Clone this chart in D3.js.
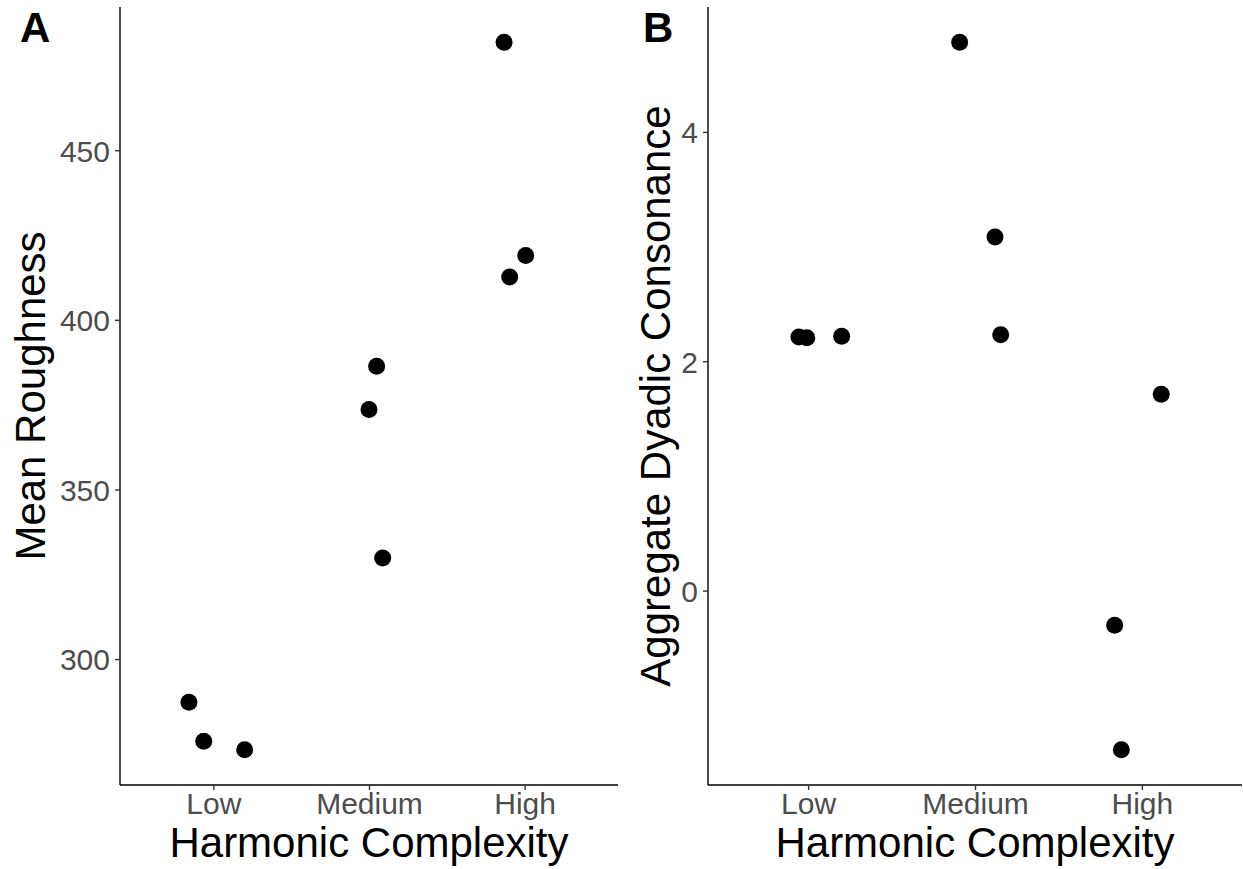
<!DOCTYPE html>
<html>
<head>
<meta charset="utf-8">
<script src="https://cdn.jsdelivr.net/npm/d3@7"></script>
<style>
  html, body { margin: 0; padding: 0; background: #fff; }
  svg { display: block; font-family: "Liberation Sans", Arial, sans-serif; }
</style>
</head>
<body>
<svg id="chart" width="1243" height="869"></svg>
<script>
// Harmonic complexity levels shared by both panels
const categories = ["Low", "Medium", "High"];

// Panel A: mean roughness per stimulus
const roughnessGroup = ["Low", "Low", "Low", "Medium", "Medium", "Medium", "High", "High", "High"];
const roughnessValue = [287.3, 275.8, 273.3, 386.3, 373.6, 329.8, 481.8, 419.0, 412.6];
const roughnessJitter = [-0.157, -0.062, 0.201, 0.049, 0.0, 0.088, -0.132, 0.007, -0.096];
const roughnessTicks = [300, 350, 400, 450];

// Panel B: aggregate dyadic consonance per stimulus
const consonanceGroup = ["Low", "Low", "Low", "Medium", "Medium", "Medium", "High", "High", "High"];
const consonanceValue = [2.212, 2.205, 2.218, 4.781, 3.084, 2.232, 1.712, -0.303, -1.387];
const consonanceJitter = [-0.055, -0.008, 0.201, -0.092, 0.120, 0.154, 0.116, -0.163, -0.123];
const consonanceTicks = [0, 2, 4];

const svg = d3.select("#chart");

function drawPanel(opts) {
  const { left, right, top, bottom, groups, values, jitter, ticks, yTitle, tag, tagX, yTitleX } = opts;

  const x = d3.scalePoint().domain(categories).range([left, right]).padding(0.6);
  const step = x.step();

  const [lo, hi] = d3.extent(values);
  const pad = (hi - lo) * 0.05;
  const y = d3.scaleLinear().domain([lo - pad, hi + pad]).range([bottom, top]);

  const g = svg.append("g");

  // points
  g.append("g")
    .selectAll("circle")
    .data(values.map((v, i) => ({ v, grp: groups[i], j: jitter[i] })))
    .join("circle")
    .attr("cx", d => x(d.grp) + d.j * step)
    .attr("cy", d => y(d.v))
    .attr("r", 8.5)
    .attr("fill", "#000");

  // y axis
  const yAxis = g.append("g")
    .attr("transform", `translate(${left},0)`)
    .call(d3.axisLeft(y).tickValues(ticks).tickFormat(d3.format("d"))
      .tickSize(5).tickPadding(5).tickSizeOuter(0));
  yAxis.select(".domain").attr("stroke", "#000").attr("stroke-width", 1.4)
    .attr("d", `M0,${top}V${bottom}`);
  yAxis.selectAll(".tick line").attr("stroke", "#333").attr("stroke-width", 1.4);
  yAxis.selectAll(".tick text")
    .attr("fill", "#4D4D4D")
    .style("font-size", "30px")
    .attr("dy", "0.36em");

  // x axis
  const xAxis = g.append("g")
    .attr("transform", `translate(0,${bottom})`)
    .call(d3.axisBottom(x).tickSize(5).tickPadding(3).tickSizeOuter(0));
  xAxis.select(".domain").attr("stroke", "#000").attr("stroke-width", 1.4)
    .attr("d", `M${left},0H${right}`);
  xAxis.selectAll(".tick line").attr("stroke", "#333").attr("stroke-width", 1.4);
  xAxis.selectAll(".tick text")
    .attr("fill", "#4D4D4D")
    .style("font-size", "30px")
    .attr("dy", "0.71em");

  // axis titles
  g.append("text")
    .attr("x", (left + right) / 2)
    .attr("y", 857)
    .attr("text-anchor", "middle")
    .style("font-size", "42px")
    .attr("fill", "#000")
    .text("Harmonic Complexity");

  g.append("text")
    .attr("transform", `translate(${yTitleX},${(top + bottom) / 2}) rotate(-90)`)
    .attr("text-anchor", "middle")
    .style("font-size", "42px")
    .attr("fill", "#000")
    .text(yTitle);

  // panel tag
  g.append("text")
    .attr("x", tagX)
    .attr("y", 42)
    .style("font-size", "42px")
    .style("font-weight", "bold")
    .attr("fill", "#000")
    .text(tag);
}

drawPanel({
  left: 120, right: 618, top: 7, bottom: 785,
  groups: roughnessGroup, values: roughnessValue, jitter: roughnessJitter,
  ticks: roughnessTicks, yTitle: "Mean Roughness", tag: "A", tagX: 20, yTitleX: 45
});

drawPanel({
  left: 708, right: 1242, top: 7, bottom: 785,
  groups: consonanceGroup, values: consonanceValue, jitter: consonanceJitter,
  ticks: consonanceTicks, yTitle: "Aggregate Dyadic Consonance", tag: "B", tagX: 643, yTitleX: 670
});
</script>
</body>
</html>
